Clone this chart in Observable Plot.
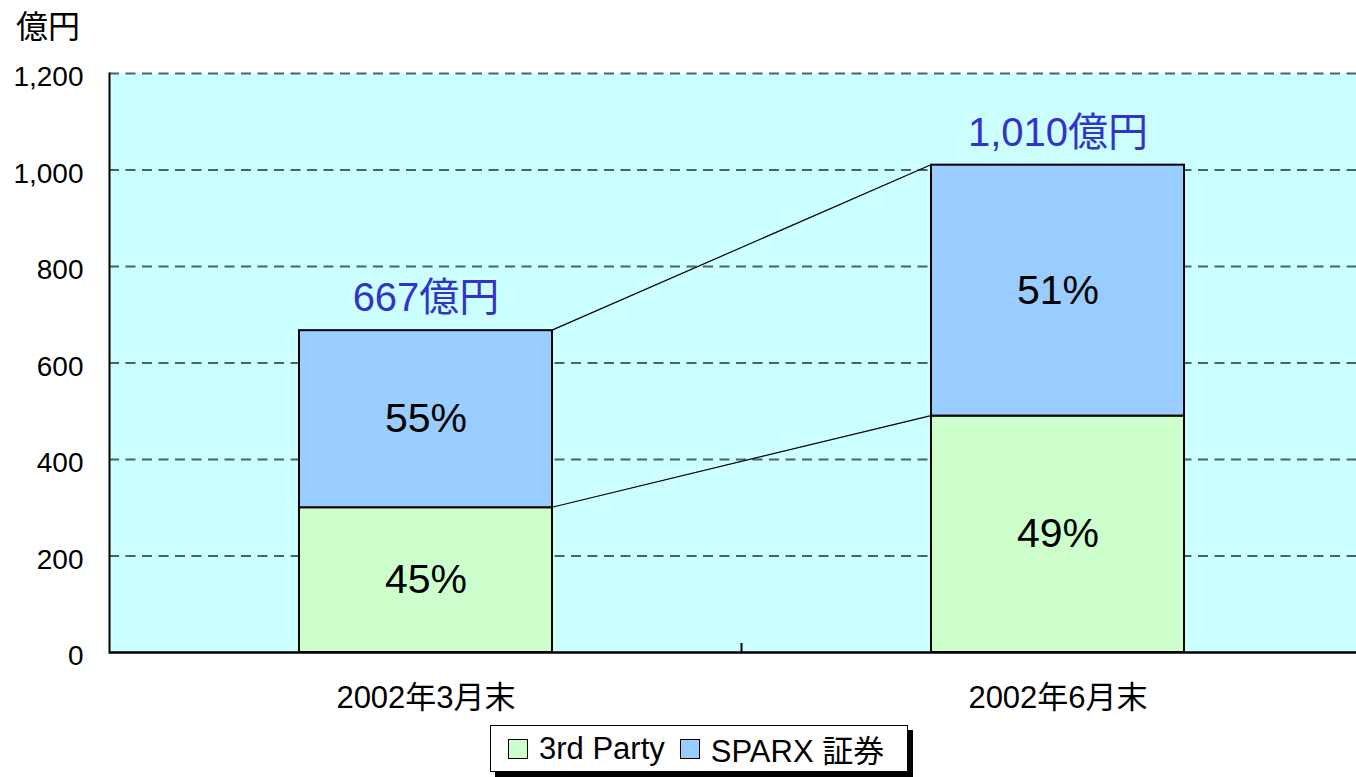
<!DOCTYPE html>
<html>
<head>
<meta charset="utf-8">
<script src="https://cdn.jsdelivr.net/npm/d3@7"></script>
<script src="https://cdn.jsdelivr.net/npm/@observablehq/plot@0.6"></script>
<style>
  html, body { margin: 0; padding: 0; background: #fff; overflow: hidden; }
  #wrap { position: relative; width: 1356px; height: 777px; overflow: hidden;
          font-family: "Liberation Sans", "Noto Sans CJK JP", sans-serif; color: #000; }
  #unit { position: absolute; left: 16px; top: 1px; font-size: 32px; }
  #chart { position: absolute; left: 0; top: 0; width: 1373px; }
  #chart svg { max-width: none !important; }
  #legend { position: absolute; left: 490px; top: 725px; width: 418px; height: 47px;
            border: 1px solid #000; background: #fff; box-shadow: 5px 5px 0 #000; white-space: nowrap;
            display: flex; align-items: center; font-size: 31px; box-sizing: border-box; padding-left: 17px; }
  .sw { width: 18px; height: 18px; border: 1.5px solid #000; margin-right: 11px; flex: none; }
  .item { display: flex; align-items: center; margin-right: 15px; white-space: nowrap; flex: none; }
</style>
</head>
<body>
<div id="wrap">
  <div id="chart"></div>
  <div id="unit">億円</div>
  <div id="legend"></div>
</div>
<script>
// ---- data ----
const categories = ["2002年3月末", "2002年6月末"];
const series = ["3rd Party", "SPARX 証券"];
const thirdParty = [300, 490];
const sparx = [367, 520];
const totals = [667, 1010];
const pctThird = [45, 49];
const pctSparx = [55, 51];
const yTicks = [0, 200, 400, 600, 800, 1000, 1200];
const seriesColors = ["#ccffcc", "#99ccff"];

// ---- tables built from arrays ----
const rows = [];
categories.forEach((c, i) => {
  rows.push({cat: c, series: series[0], value: thirdParty[i], pct: pctThird[i]});
  rows.push({cat: c, series: series[1], value: sparx[i], pct: pctSparx[i]});
});
const totalRows = categories.map((c, i) => ({cat: c, total: totals[i]}));

const font = '"Liberation Sans", "Noto Sans CJK JP", sans-serif';

const plot = Plot.plot({
  width: 1373,
  height: 777,
  marginLeft: 109,
  marginRight: 0,
  marginTop: 73,
  marginBottom: 125,
  style: {fontFamily: font, background: "transparent", color: "#000", overflow: "visible", maxWidth: "none"},
  x: {domain: categories, paddingInner: 0.6, paddingOuter: 0.3, label: null, tickSize: 0, tickPadding: 33},
  y: {domain: [0, 1200], ticks: yTicks, tickFormat: d3.format(","), label: null, tickSize: 0, tickPadding: 26},
  color: {domain: series, range: seriesColors},
  marks: [
    Plot.frame({fill: "#ccffff", stroke: null}),
    Plot.ruleY(yTicks.filter(d => d > 0), {stroke: "#4d6262", strokeOpacity: 1, strokeWidth: 2, strokeDasharray: "10,6.5"}),
    Plot.barY(rows, {x: "cat", y: "value", fill: "series", stroke: "#000", strokeWidth: 2, order: series}),
    Plot.text(rows, Plot.stackY({x: "cat", y: "value", z: "series", order: series, text: d => d.pct + "%", fontSize: 41, fill: "#000"})),
    Plot.text(totalRows, {x: "cat", y: "total", text: d => d3.format(",")(d.total) + "億円", fontSize: 40, fill: "#3333cc", dy: -32}),
    Plot.frame({anchor: "left", stroke: "#000", strokeWidth: 2}),
    Plot.ruleY([0], {stroke: "#000", strokeWidth: 2.5})
  ]
});
plot.style.maxWidth = "none";

const svg = d3.select(plot);
// style tick labels
svg.selectAll('g[aria-label^="y-axis"]')
  .attr("font-size", 28)
  .attr("transform", function() { const t = this.getAttribute("transform") || ""; return t + " translate(0,4)"; })
  .selectAll("text").attr("font-size", 28);
svg.selectAll('g[aria-label^="x-axis"]').attr("font-size", 31).selectAll("text").attr("font-size", 31);

// connecting lines + category divider tick, positioned through Plot's scales
const xs = plot.scale("x");
const ys = plot.scale("y");
const bw = xs.bandwidth;
const step = xs.step;
const g = svg.append("g");
const cumTop = categories.map((c, i) => [thirdParty[i], thirdParty[i] + sparx[i]]);
for (let k = 0; k < 2; k++) {
  g.append("line")
    .attr("x1", xs.apply(categories[0]) + bw).attr("y1", ys.apply(cumTop[0][k]))
    .attr("x2", xs.apply(categories[1])).attr("y2", ys.apply(cumTop[1][k]))
    .attr("stroke", "#000").attr("stroke-width", 1.2);
}
const divX = xs.apply(categories[1]) - (step - bw) / 2;
g.append("line")
  .attr("x1", divX).attr("x2", divX)
  .attr("y1", ys.apply(0)).attr("y2", ys.apply(0) - 9)
  .attr("stroke", "#000").attr("stroke-width", 2);

document.getElementById("chart").appendChild(plot);

// legend
const leg = document.getElementById("legend");
series.forEach((s, i) => {
  const it = document.createElement("div");
  it.className = "item";
  const sw = document.createElement("div");
  sw.className = "sw";
  sw.style.background = seriesColors[i];
  const t = document.createElement("span");
  t.textContent = s;
  it.appendChild(sw); it.appendChild(t);
  leg.appendChild(it);
});
</script>
</body>
</html>
